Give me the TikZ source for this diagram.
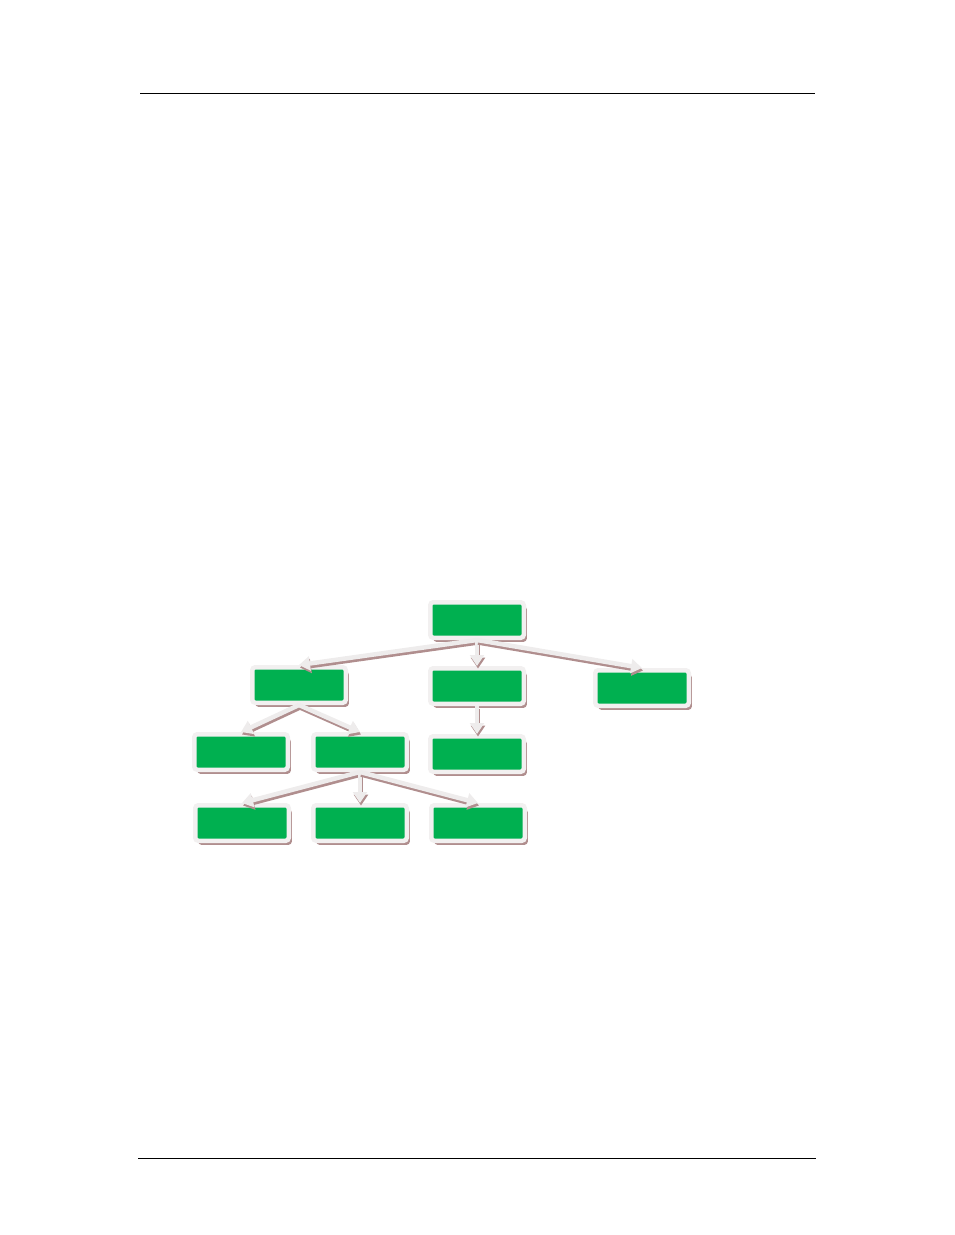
\documentclass[tikz,border=0pt]{standalone}
\usepackage{tikz}
\usetikzlibrary{arrows.meta, shadows}
\definecolor{boxgreen}{RGB}{0,176,80}
\definecolor{boxedge}{RGB}{242,240,240}
\definecolor{shadebrown}{RGB}{176,142,142}
\definecolor{linkgrey}{RGB}{238,236,236}

\begin{document}
\begin{tikzpicture}[x=1pt, y=-1pt,
    orgbox/.style={draw=boxedge, line width=4.5pt, fill=boxgreen, rounded corners=3pt,
        minimum width=93.5pt, minimum height=35.5pt, inner sep=0pt,
        drop shadow={shadow xshift=3pt, shadow yshift=-4pt, fill=shadebrown, opacity=1}},
    link/.style={draw=linkgrey, line width=4.5pt, -{Triangle[width=14pt, length=11pt]},
        preaction={draw=shadebrown, line width=4.5pt, transform canvas={shift={(1pt,-2.5pt)}}}}]
    % Page frame
    \useasboundingbox (0,0) rectangle (954,1235);
    \coordinate (hl) at (140,93);
    \coordinate (hr) at (815,93);
    \coordinate (fl) at (138,1158);
    \coordinate (fr) at (816,1158);
    \draw[line width=1pt] (hl) -- (hr);
    \draw[line width=1pt] (fl) -- (fr);

    % Top level
    \node[orgbox] (root) at (477,620) {};

    % Second level
    \node[orgbox] (left) at (299,685) {};
    \node[orgbox] (mid) at (477,686) {};
    \node[orgbox] (right) at (642,688) {};

    % Third level
    \node[orgbox] (leftA) at (241,752) {};
    \node[orgbox] (leftB) at (360,752) {};
    \node[orgbox] (midA) at (477,754) {};

    % Fourth level
    \node[orgbox] (subA) at (242,823) {};
    \node[orgbox] (subB) at (360,823) {};
    \node[orgbox] (subC) at (478,823) {};

    % Arrows
    \draw[link] (root.south) -- (left.north);
    \draw[link] (root.south) -- (mid.north);
    \draw[link] (root.south) -- (right.north);
    \draw[link] (left.south) -- (leftA.north);
    \draw[link] (left.south) -- (leftB.north);
    \draw[link] (mid.south) -- (midA.north);
    \draw[link] (leftB.south) -- (subA.north);
    \draw[link] (leftB.south) -- (subB.north);
    \draw[link] (leftB.south) -- (subC.north);
\end{tikzpicture}
\end{document}
